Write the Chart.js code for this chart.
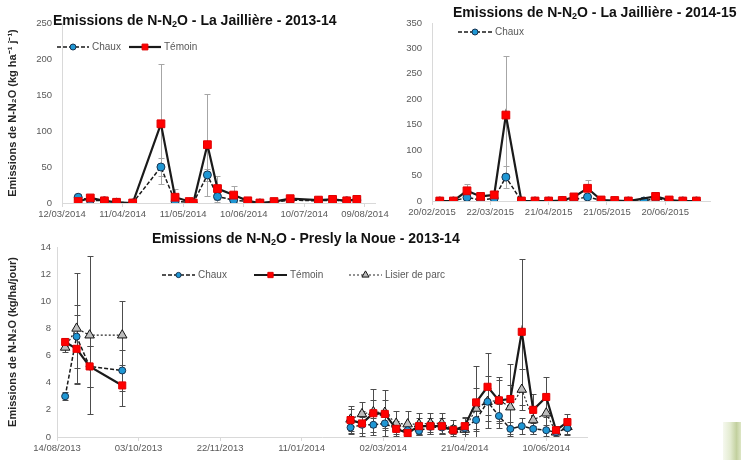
<!DOCTYPE html>
<html lang="fr">
<head>
<meta charset="utf-8">
<title>Emissions de N-N2O</title>
<script src="https://cdn.jsdelivr.net/npm/chart.js@4.4.1/dist/chart.umd.min.js"></script>
<style>
  html, body { margin: 0; padding: 0; background: #fff; }
  body { width: 741px; height: 460px; position: relative; overflow: hidden; font-family: "Liberation Sans", Arial, sans-serif; }
  .panneau { position: absolute; }
  .titre { position: absolute; font-weight: bold; font-size: 14px; line-height: 16px; color: #111; white-space: nowrap; z-index: 5; }
  .titre sub { font-size: 9px; line-height: 0; vertical-align: -2px; }
  #feuille { position: absolute; left: 723px; top: 422px; width: 18px; height: 38px;
             background: linear-gradient(90deg, #f4f7ec 0%, #dfe8c9 40%, #b8c88e 75%, #d7e2bb 100%); opacity: 0.85; }
</style>
</head>
<body>
<div class="titre" style="left:53px; top:12px;">Emissions de N-N<sub>2</sub>O - La Jaillière - 2013-14</div>
<div class="titre" style="left:453px; top:4px;">Emissions de N-N<sub>2</sub>O - La Jaillière - 2014-15</div>
<div class="titre" style="left:152px; top:230px;">Emissions de N-N<sub>2</sub>O - Presly la Noue - 2013-14</div>

<div class="panneau" style="left:0; top:0; width:400px; height:225px; z-index:1;"><canvas id="graphJaill1314"></canvas></div>
<div class="panneau" style="left:370px; top:0; width:371px; height:225px; z-index:2;"><canvas id="graphJaill1415"></canvas></div>
<div class="panneau" style="left:0; top:225px; width:741px; height:235px; z-index:3;"><canvas id="graphPresly"></canvas></div>
<div id="feuille"></div>

<script>
// --- La Jaillière 2013-14 (jours depuis le 12/03/2014) ---
const jours1 = [8, 14, 21, 27, 35, 49, 56, 63, 65, 72, 77, 85, 92, 98, 105, 113, 127, 134, 141, 146];
const chaux1 = [8, 4, 3, 1, 0, 50, 2, 1, 0, 39, 9, 4, 2, 0, 1, 4, 3, 4, 3, 4];
const temoin1 = [2, 7, 3, 1, 0, 110, 8, 2, 0, 81, 20, 11, 3, 0, 2, 6, 4, 5, 3, 5];
const errChaux1 = [4, 2, 1, 1, 0, 13, 2, 1, 0, 8, 5, 3, 1, 0, 1, 2, 1, 1, 1, 1];
const errTemoin1 = [3, 3, 2, 1, 0, 83, 12, 2, 0, 71, 18, 12, 3, 1, 2, 3, 2, 2, 1, 2];

// --- La Jaillière 2014-15 (jours depuis le 20/02/2015) ---
const jours2 = [4, 11, 18, 25, 32, 38, 46, 53, 60, 67, 73, 80, 87, 94, 101, 109, 115, 122, 129, 136];
const chaux2 = [0, 0, 7, 2, 5, 47, 0, 0, 0, 1, 3, 8, 1, 0, 0, 0, 5, 1, 0, 0];
const temoin2 = [0, 0, 20, 9, 12, 169, 0, 0, 0, 1, 8, 25, 2, 1, 0, null, 9, 2, 0, 0];
const errChaux2 = [0, 0, 4, 2, 3, 21, 0, 0, 0, 1, 2, 4, 1, 0, 0, 0, 2, 1, 0, 0];
const errTemoin2 = [0, 0, 13, 3, 4, 117, 0, 0, 0, 1, 5, 16, 1, 0, 0, 0, 3, 1, 0, 0];

// --- Presly la Noue 2013-14 (jours depuis le 14/08/2013) ---
const jours3 = [5, 12, 20, 40, 180, 187, 194, 201, 208, 215, 222, 229, 236, 243, 250, 257, 264, 271, 278, 285, 292, 300, 306, 313];
const chaux3 = [3.0, 7.4, 5.2, 4.9, 0.7, 0.9, 0.9, 1.0, 0.6, 0.5, 0.45, 0.75, 0.7, 0.5, 0.65, 1.25, 2.6, 1.55, 0.6, 0.8, 0.6, 0.5, 0.35, 0.65];
const temoin3 = [7.0, 6.5, 5.2, 3.8, 1.25, 1.0, 1.75, 1.7, 0.6, 0.3, 0.8, 0.8, 0.8, 0.5, 0.8, 2.55, 3.7, 2.7, 2.8, 7.75, 2.0, 2.95, 0.5, 1.1];
const lisier3 = [6.6, 8.0, 7.5, 7.5, 1.3, 1.7, 1.85, 1.8, 1.0, 0.95, 0.95, 1.0, 1.0, 0.55, 0.55, 2.1, 2.6, 2.7, 2.2, 3.5, 1.25, 1.75, 0.35, 0.75];
const errChaux3 = [0.3, 2.3, 1.5, 1.5, 0.5, 0.6, 0.5, 0.5, 0.4, 0.4, 0.3, 0.4, 0.4, 0.3, 0.4, 0.8, 1.0, 0.9, 0.5, 0.6, 0.4, 0.4, 0.3, 0.4];
const errTemoin3 = [0.3, 2.5, 1.5, 1.5, 0.8, 0.9, 1.0, 1.0, 0.6, 0.4, 0.6, 0.6, 0.6, 0.4, 0.6, 2.7, 2.5, 1.5, 2.6, 5.4, 1.2, 1.5, 0.3, 0.6];
const errLisier3 = [0.3, 4.1, 5.8, 2.5, 1.0, 0.9, 1.7, 1.7, 0.9, 1.0, 0.8, 0.8, 0.8, 0.7, 0.9, 1.5, 1.9, 1.7, 1.6, 1.5, 1.0, 1.3, 0.4, 0.6];

const POLICE = '"Liberation Sans", Arial, sans-serif';
Chart.defaults.font.family = POLICE;
Chart.defaults.animation = false;

function points(jours, valeurs) {
    return jours.map((j, i) => ({ x: j, y: valeurs[i] }));
}

// étiquettes de date jj/mm/aaaa à partir d'un nombre de jours
function etiquetteDate(annee, mois, jour) {
    const base = Date.UTC(annee, mois - 1, jour);
    return function (v) {
        const d = new Date(base + v * 86400000);
        const dd = String(d.getUTCDate()).padStart(2, '0');
        const mm = String(d.getUTCMonth() + 1).padStart(2, '0');
        return dd + '/' + mm + '/' + d.getUTCFullYear();
    };
}

// barres d'erreur symétriques
const barresErreur = {
    id: 'barresErreur',
    beforeDatasetsDraw(chart, args, opts) {
        const ctx = chart.ctx;
        const sx = chart.scales.x, sy = chart.scales.y;
        const zone = chart.chartArea;
        ctx.save();
        ctx.beginPath();
        ctx.rect(zone.left, zone.top - 2, zone.right - zone.left, zone.bottom - zone.top + 2);
        ctx.clip();
        ctx.strokeStyle = opts.couleur || '#a6a6a6';
        ctx.lineWidth = 1;
        chart.data.datasets.forEach(ds => {
            if (!ds.erreurs) return;
            ds.data.forEach((p, i) => {
                const e = ds.erreurs[i];
                if (p.y == null || !e) return;
                const px = Math.round(sx.getPixelForValue(p.x)) + 0.5;
                const haut = Math.round(sy.getPixelForValue(p.y + e)) + 0.5;
                const bas = Math.round(sy.getPixelForValue(p.y - e)) + 0.5;
                ctx.beginPath();
                ctx.moveTo(px, haut); ctx.lineTo(px, bas);
                ctx.moveTo(px - 3, haut); ctx.lineTo(px + 3, haut);
                ctx.moveTo(px - 3, bas); ctx.lineTo(px + 3, bas);
                ctx.stroke();
            });
        });
        ctx.restore();
    }
};

// légende façon Excel : trait + marqueur + texte
const legendeExcel = {
    id: 'legendeExcel',
    afterDraw(chart, args, opts) {
        const ctx = chart.ctx;
        ctx.save();
        ctx.font = '10px ' + POLICE;
        ctx.textBaseline = 'middle';
        opts.entrees.forEach(ent => {
            const ds = chart.data.datasets[ent.index];
            ctx.strokeStyle = ds.borderColor;
            ctx.lineWidth = ds.borderWidth;
            ctx.setLineDash(ds.borderDash || []);
            ctx.beginPath();
            ctx.moveTo(ent.x, opts.y);
            ctx.lineTo(ent.x + opts.longueur, opts.y);
            ctx.stroke();
            ctx.setLineDash([]);
            ctx.fillStyle = ds.pointBackgroundColor;
            ctx.strokeStyle = ds.pointBorderColor;
            ctx.lineWidth = ds.pointBorderWidth;
            Chart.helpers.drawPoint(ctx, { pointStyle: ds.pointStyle, radius: ds.pointRadius * 0.75, borderWidth: ds.pointBorderWidth, rotation: 0 }, ent.x + opts.longueur / 2, opts.y);
            ctx.fillStyle = '#595959';
            ctx.fillText(ds.label, ent.x + opts.longueur + 3, opts.y);
        });
        ctx.restore();
    }
};

const coupure = ctx => (ctx.p1.parsed.x - ctx.p0.parsed.x > 60 ? 'rgba(0,0,0,0)' : undefined);

function serieChaux(jours, valeurs, erreurs, rayon) {
    return {
        label: 'Chaux', data: points(jours, valeurs), erreurs: erreurs,
        borderColor: '#1a1a1a', borderWidth: 1.5, borderDash: [4, 2],
        pointStyle: 'circle', pointRadius: rayon, pointBackgroundColor: '#1f97d4',
        pointBorderColor: '#16324f', pointBorderWidth: 1, order: 3,
        spanGaps: true, segment: { borderColor: coupure }
    };
}

function serieTemoin(jours, valeurs, erreurs, rayon) {
    return {
        label: 'Témoin', data: points(jours, valeurs), erreurs: erreurs,
        borderColor: '#1a1a1a', borderWidth: 2.2,
        pointStyle: 'rect', pointRadius: rayon, pointBackgroundColor: '#ff0000',
        pointBorderColor: '#e00000', pointBorderWidth: 1, order: 1,
        spanGaps: true, segment: { borderColor: coupure }
    };
}

function axeX(annee, mois, jour, max, pas, hauteur) {
    return {
        type: 'linear', min: 0, max: max,
        border: { color: '#d9d9d9' },
        grid: { drawOnChartArea: false, drawTicks: true, tickLength: 4, color: '#d9d9d9' },
        ticks: { stepSize: pas, includeBounds: false, autoSkip: false, maxRotation: 0, padding: 2,
                 color: '#595959', font: { size: 9.5 }, callback: etiquetteDate(annee, mois, jour) },
        afterFit(s) { s.height = hauteur; }
    };
}

function axeY(max, pas, largeur, ecart, titre) {
    const axe = {
        min: 0, max: max,
        border: { color: '#d9d9d9' },
        grid: { display: false, drawTicks: false },
        ticks: { stepSize: pas, padding: ecart, color: '#595959', font: { size: 9.5 } },
        afterFit(s) { s.width = largeur; }
    };
    if (titre) axe.title = { display: true, text: titre, color: '#262626', font: { size: 11, weight: 'bold' }, padding: { top: 6, bottom: 2 } };
    return axe;
}

const pluginsCommuns = { legend: { display: false }, tooltip: { enabled: false } };

new Chart(document.getElementById('graphJaill1314'), {
    type: 'line',
    data: { datasets: [serieChaux(jours1, chaux1, errChaux1, 4), serieTemoin(jours1, temoin1, errTemoin1, 5.5)] },
    options: {
        responsive: true, maintainAspectRatio: false,
        layout: { padding: { top: 23, right: 25, left: 0, bottom: 0 } },
        plugins: { ...pluginsCommuns,
            barresErreur: { couleur: '#a6a6a6' },
            legendeExcel: { y: 47, longueur: 32, entrees: [{ index: 0, x: 57 }, { index: 1, x: 129 }] } },
        scales: {
            x: axeX(2014, 3, 12, 155, 30, 22),
            y: axeY(250, 50, 62, 10, 'Emissions de N-N₂O (kg ha⁻¹ j⁻¹)')
        }
    },
    plugins: [barresErreur, legendeExcel]
});

new Chart(document.getElementById('graphJaill1415'), {
    type: 'line',
    data: { datasets: [serieChaux(jours2, chaux2, errChaux2, 4), serieTemoin(jours2, temoin2, errTemoin2, 5.5)] },
    options: {
        responsive: true, maintainAspectRatio: false,
        layout: { padding: { top: 23, right: 31, left: 0, bottom: 0 } },
        plugins: { ...pluginsCommuns,
            barresErreur: { couleur: '#a6a6a6' },
            legendeExcel: { y: 32, longueur: 34, entrees: [{ index: 0, x: 88 }] } },
        scales: {
            x: axeX(2015, 2, 20, 143, 30, 24),
            y: axeY(350, 50, 62, 10, null)
        }
    },
    plugins: [barresErreur, legendeExcel]
});

new Chart(document.getElementById('graphPresly'), {
    type: 'line',
    data: {
        datasets: [
            serieChaux(jours3, chaux3, errChaux3, 3.5),
            serieTemoin(jours3, temoin3, errTemoin3, 5),
            {
                label: 'Lisier de parc', data: points(jours3, lisier3), erreurs: errLisier3,
                borderColor: '#262626', borderWidth: 1.2, borderDash: [2, 2],
                pointStyle: 'triangle', pointRadius: 5.5, pointBackgroundColor: '#bdbdbd',
                pointBorderColor: '#111', pointBorderWidth: 1, order: 4,
                spanGaps: true, segment: { borderColor: coupure }
            }
        ]
    },
    options: {
        responsive: true, maintainAspectRatio: false,
        layout: { padding: { top: 22, right: 154, left: 0, bottom: 0 } },
        plugins: { ...pluginsCommuns,
            barresErreur: { couleur: '#4d4d4d' },
            legendeExcel: { y: 50, longueur: 33, entrees: [{ index: 0, x: 162 }, { index: 1, x: 254 }, { index: 2, x: 349 }] } },
        scales: {
            x: axeX(2013, 8, 14, 325, 50, 23),
            y: axeY(14, 2, 57, 6, 'Emissions de N-N₂O (kg/ha/jour)')
        }
    },
    plugins: [barresErreur, legendeExcel]
});
</script>
</body>
</html>
